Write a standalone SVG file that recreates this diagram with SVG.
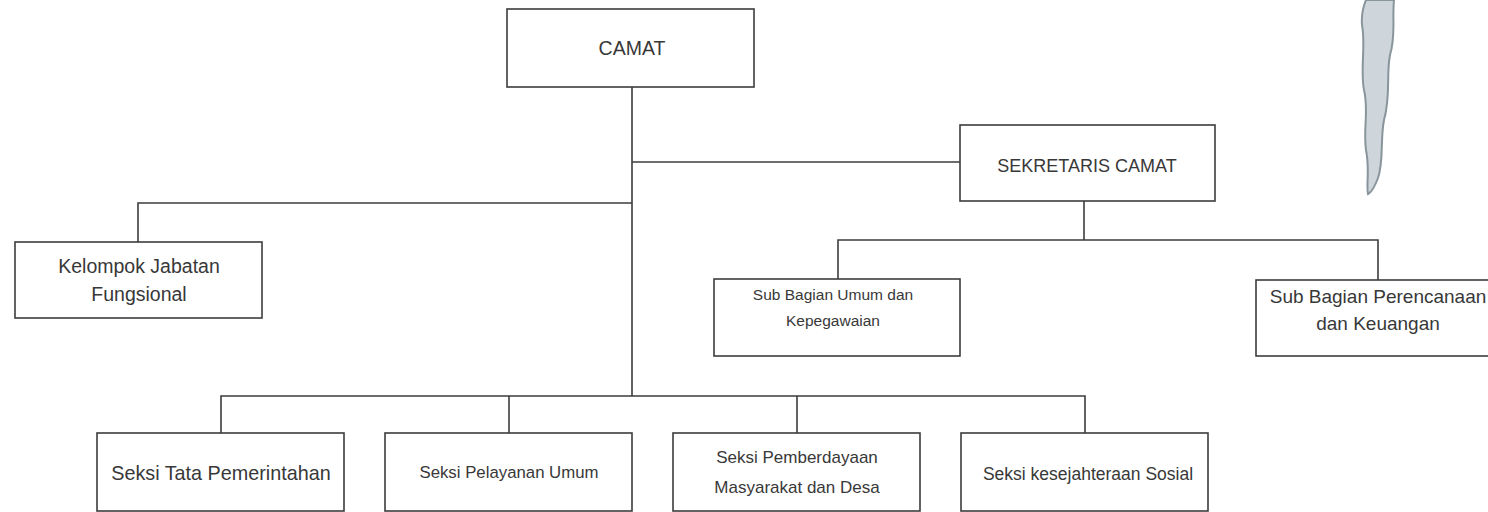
<svg xmlns="http://www.w3.org/2000/svg" width="1488" height="512" viewBox="0 0 1488 512">
<style>
.box{fill:#ffffff;stroke:#3c3c3c;stroke-width:1.6}
.ln{fill:none;stroke:#3c3c3c;stroke-width:1.6}
.t{font-family:"Liberation Sans",Arial,sans-serif;fill:#383838;text-anchor:middle}
.b{font-size:18px}
.s{font-size:16.8px}
</style>
<rect width="1488" height="512" fill="#ffffff"/>
<path d="M1366,0 L1394,0 C1392,20 1396,35 1390,55 C1386,75 1391,95 1384,120 C1380,140 1384,160 1378,178 C1375,186 1372,192 1368,194 C1366,185 1370,170 1366,150 C1363,130 1369,110 1364,90 C1360,70 1366,45 1362,25 C1361,12 1364,5 1366,0 Z" fill="#c9d2d8" stroke="#7d8a92" stroke-width="2" opacity="0.9"/>
<g id="connectors">
<path class="ln" d="M632,87 V396"/>
<path class="ln" d="M632,162 H960"/>
<path class="ln" d="M632,203 H138 V242"/>
<path class="ln" d="M1084,201 V240"/>
<path class="ln" d="M838,279 V240 H1378 V280"/>
<path class="ln" d="M221,433 V396 H1085 V433"/>
<path class="ln" d="M509,396 V433"/>
<path class="ln" d="M797,396 V433"/>
</g>
<g id="camat">
<rect class="box" x="507" y="9" width="247" height="78"/>
<text class="t" style="font-size:19.5px" x="632" y="55">CAMAT</text>
</g>
<g id="sekretaris">
<rect class="box" x="960" y="125" width="255" height="76"/>
<text class="t b" x="1087" y="172">SEKRETARIS CAMAT</text>
</g>
<g id="kelompok">
<rect class="box" x="15" y="242" width="247" height="76"/>
<text class="t" style="font-size:19.5px" x="139" y="273">Kelompok Jabatan</text>
<text class="t" style="font-size:19.5px" x="139" y="301">Fungsional</text>
</g>
<g id="subumum">
<rect class="box" x="714" y="279" width="246" height="77"/>
<text class="t" style="font-size:15.5px" x="833" y="300">Sub Bagian Umum dan</text>
<text class="t" style="font-size:15.5px" x="833" y="326">Kepegawaian</text>
</g>
<g id="subrencana">
<rect class="box" x="1256" y="280" width="236" height="76"/>
<text class="t" style="font-size:19px" x="1378" y="303">Sub Bagian Perencanaan</text>
<text class="t" style="font-size:19px" x="1378" y="330">dan Keuangan</text>
</g>
<g id="tata">
<rect class="box" x="97" y="433" width="247" height="78"/>
<text class="t" style="font-size:19.8px" x="221" y="480">Seksi Tata Pemerintahan</text>
</g>
<g id="pelayanan">
<rect class="box" x="385" y="433" width="247" height="78"/>
<text class="t s" x="509" y="478">Seksi Pelayanan Umum</text>
</g>
<g id="pemberdayaan">
<rect class="box" x="673" y="433" width="247" height="78"/>
<text class="t" style="font-size:17px" x="797" y="463">Seksi Pemberdayaan</text>
<text class="t" style="font-size:17px" x="797" y="493">Masyarakat dan Desa</text>
</g>
<g id="kesejahteraan">
<rect class="box" x="961" y="433" width="247" height="78"/>
<text class="t" style="font-size:17.5px" x="1088" y="480">Seksi kesejahteraan Sosial</text>
</g>
</svg>
